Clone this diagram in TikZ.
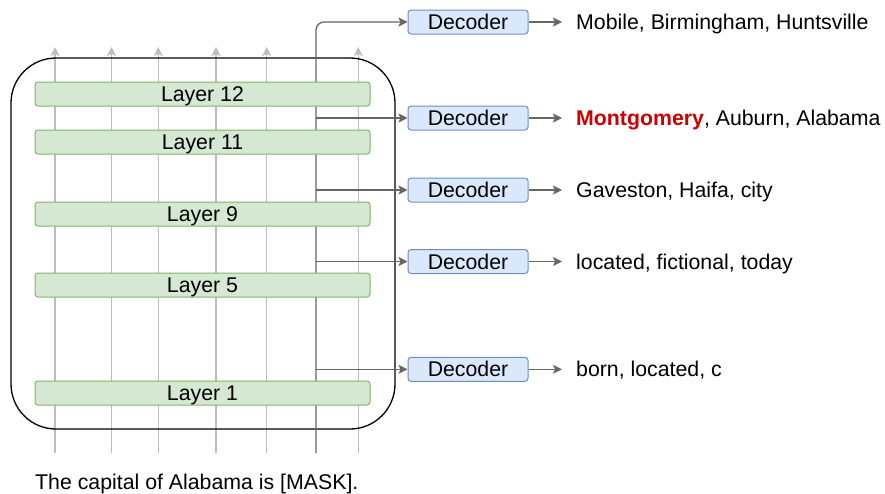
\documentclass[tikz,border=0pt]{standalone}
\usepackage{fontspec}
\setmainfont{Liberation Sans}
\usetikzlibrary{arrows.meta}
\pgfdeclarelayer{background}
\pgfsetlayers{background,main}
\definecolor{lgreen}{HTML}{D5E8D4}
\definecolor{dgreen}{HTML}{82B366}
\definecolor{lblue}{HTML}{DAE8FC}
\definecolor{dblue}{HTML}{6C8EBF}
\definecolor{lgray}{HTML}{BDBDBD}
\definecolor{dgray}{HTML}{666666}
\definecolor{mred}{HTML}{CC0000}
\begin{document}
\begin{tikzpicture}[x=1pt,y=-1pt,font=\fontsize{21.3}{25}\selectfont,
  layerbox/.style={draw=dgreen,fill=lgreen,rounded corners=3pt,minimum width=335pt,minimum height=24pt,inner sep=0pt,text height=15pt,text depth=0pt,line width=1pt},
  decbox/.style={draw=dblue,fill=lblue,rounded corners=3pt,minimum width=120pt,minimum height=24pt,inner sep=0pt,text height=15pt,text depth=0pt,line width=1pt},
  outtext/.style={anchor=base west,inner sep=0pt},
  tokline/.style={lgray,line width=1.3pt,-{Stealth[length=9pt,width=9pt,inset=2pt]}},
  darkline/.style={dgray,line width=1.3pt},
  darkarrow/.style={dgray,line width=1.3pt,-{Stealth[length=9pt,width=9pt,inset=2pt]}},
  encframe/.style={black,line width=1.3pt,rounded corners=45pt}]
\useasboundingbox (0,0) rectangle (885,493);

% layers
\node[layerbox] (l12) at (202.5,94) {Layer 12};
\node[layerbox] (l11) at (202.5,142) {Layer 11};
\node[layerbox] (l9) at (202.5,214) {Layer 9};
\node[layerbox] (l5) at (202.5,285) {Layer 5};
\node[layerbox] (l1) at (202.5,393) {Layer 1};

% decoders
\node[decbox] (d1) at (468,22) {Decoder};
\node[decbox] (d2) at (468,118) {Decoder};
\node[decbox] (d3) at (468,190) {Decoder};
\node[decbox] (d4) at (468,261.5) {Decoder};
\node[decbox] (d5) at (468,369.3) {Decoder};

% outputs
\node[outtext] (o1) at (576,29.5) {Mobile, Birmingham, Huntsville};
\node[outtext] (o2) at (576,125.5) {\textcolor{mred}{\bfseries Montgomery}, Auburn, Alabama};
\node[outtext] (o3) at (576,197.5) {Gaveston, Haifa, city};
\node[outtext] (o4) at (576,269) {located, fictional, today};
\node[outtext] (o5) at (576,376.8) {born, located, c};

% input
\node[outtext] (q) at (35,489) {The capital of Alabama is [MASK].};

\begin{pgfonlayer}{background}
  \foreach \i/\x in {1/55,2/111.5,3/158.3,4/216,5/266.7,6/358.3} {
    \coordinate (tb\i) at (\x,453);
    \coordinate (tt\i) at (\x,47);
    \draw[tokline] (tb\i) -- (tt\i);
  }
  \draw[encframe] (11,58) rectangle (395,429);
  \coordinate (db) at (316,453);
  \coordinate (j2) at (316,118);
  \coordinate (j3) at (316,190);
  \coordinate (j4) at (316,261.5);
  \coordinate (j5) at (316,369.3);
  \draw[darkarrow,rounded corners=8pt] (db) |- (d1.west);
  \draw[darkarrow] (j2) -- (d2.west);
  \draw[darkarrow] (j3) -- (d3.west);
  \draw[darkarrow] (j4) -- (d4.west);
  \draw[darkarrow] (j5) -- (d5.west);
  \foreach \k in {1,...,5} {
    \draw[darkarrow,shorten >=14pt] (d\k.east) -- (d\k.east -| o\k.west);
  }
\end{pgfonlayer}
\end{tikzpicture}
\end{document}
